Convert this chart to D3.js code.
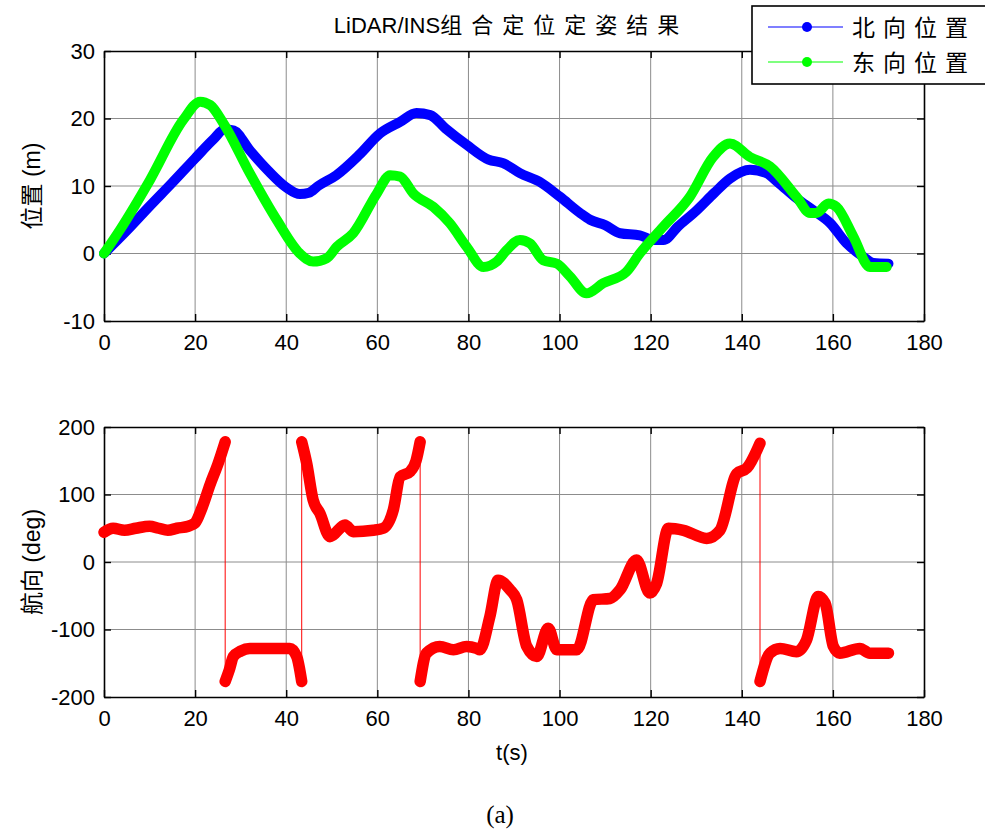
<!DOCTYPE html>
<html>
<head>
<meta charset="utf-8">
<script src="https://cdn.jsdelivr.net/npm/d3@7"></script>
<style>
  html, body { margin: 0; padding: 0; background: #fff; }
  svg { display: block; }
  svg text { fill: #000; }
</style>
</head>
<body>
<svg id="chart" width="985" height="833" font-family="'Liberation Sans', Arial, 'Noto Sans CJK SC', sans-serif"></svg>
<script>
// Time axis ticks (seconds)
const timeTicks = [0, 20, 40, 60, 80, 100, 120, 140, 160, 180];
const posTicks = [-10, 0, 10, 20, 30];
const headTicks = [-200, -100, 0, 100, 200];

// North position [t (s), m]
const northPos = [
  [0, 0], [5, 3.4], [10, 7.0], [15, 10.5], [20, 14.1], [24, 16.9], [26.5, 18.4],
  [28.5, 18.2], [32, 15.3], [36, 12.3], [40, 9.8], [43, 8.8], [45, 9.0], [47, 10.0],
  [51, 11.6], [56, 14.6], [60.6, 17.8], [65, 19.5], [68.6, 20.8], [71.6, 20.5],
  [75, 18.5], [79.6, 16.1], [84.4, 13.9], [87.6, 13.4], [91.3, 11.9], [95.7, 10.6],
  [100.1, 8.4], [104.5, 6.0], [106.7, 5.0], [110, 4.2], [113.3, 3.0], [117.6, 2.7],
  [120.6, 2.0], [122.8, 2.0], [126, 4.0], [130.1, 6.4], [134, 9.0], [137.4, 11.1],
  [141.8, 12.4], [145.4, 11.9], [148, 10.5], [152, 8.2], [155.7, 6.4], [159.4, 4.5],
  [163, 1.5], [166.7, -0.5], [168.9, -1.4], [172.2, -1.5]
];

// East position [t (s), m]
const eastPos = [
  [0, 0], [3.5, 3.5], [10.1, 10.9], [17.4, 19.8], [21.1, 22.5], [23.3, 22.0],
  [26.2, 19.3], [32, 11.9], [37.9, 5.0], [43, 0], [45.9, -1.2], [48.9, -0.7],
  [51.1, 1.0], [54.7, 3.0], [59.9, 8.9], [62.8, 11.6], [65, 11.4], [67.9, 8.9],
  [72.3, 6.9], [75.9, 4.5], [79.6, 1.0], [83.3, -2.0], [86.2, -1.2], [88.4, 0.5],
  [91.3, 2.0], [93.5, 1.5], [96.4, -1.0], [99.4, -1.5], [102.3, -3.4], [105.9, -5.9],
  [109.6, -4.4], [114.7, -2.7], [117.6, 0], [122.8, 4.0], [128.6, 8.4], [133.7, 14.3],
  [137.4, 16.3], [141.8, 14.3], [146.2, 12.9], [152, 8.4], [155, 6.0], [156.4, 6.0],
  [159, 7.4], [160.8, 6.9], [164.5, 2.5], [168.1, -2.0], [171.8, -2.0]
];

// Heading [t (s), deg], wraps at ±180
const heading = [
  [0, 44], [2, 50], [4.5, 47], [7, 50], [10, 53], [12, 50], [14, 47], [16, 50],
  [18.5, 53], [20, 58], [21.5, 80], [23.3, 115], [25, 145], [26.6, 178],
  [26.6, -177], [27.5, -160], [28.4, -140], [30, -132], [32, -128], [35.7, -128],
  [39.4, -128], [40.8, -128], [42.3, -140], [43.4, -177],
  [43.4, 178], [44.5, 146], [45.9, 92], [47.4, 72], [49.6, 37.5], [50.3, 40],
  [52.9, 55], [54.7, 45], [59.1, 47], [61.3, 50], [63.5, 77], [65, 126], [67.2, 134],
  [68.5, 150], [69.4, 178],
  [69.4, -177], [70.8, -135], [73.7, -125], [76.7, -130], [79.6, -125], [81.8, -128],
  [82.5, -130], [84.7, -81], [86.5, -27], [89.1, -41], [90.6, -56], [92.8, -125],
  [95, -140], [97.5, -98], [99.4, -130], [103.8, -130], [107.4, -56], [111.1, -54],
  [113.3, -41], [116.9, 3], [119.8, -46], [121.3, -32], [123.9, 50], [127.2, 47],
  [132.3, 35], [135.2, 47], [138.9, 131], [141.1, 139], [144, 176],
  [144, -177], [146.2, -135], [148.4, -128], [152, -133], [154.2, -116], [156.8, -51],
  [158.3, -61], [160.1, -125], [161.5, -135], [165.9, -128], [168.1, -135], [172.2, -135]
];

const svg = d3.select("#chart");
const sansFont = "'Liberation Sans', Arial, 'Noto Sans CJK SC', sans-serif";
const cjkFont = "'Noto Sans CJK SC', sans-serif";

const left = 104, right = 924;
const x = d3.scaleLinear().domain([0, 180]).range([left, right]);
const yPos = d3.scaleLinear().domain([-10, 30]).range([321, 51]);
const yHead = d3.scaleLinear().domain([-200, 200]).range([697, 427]);
const plain = d => String(d);   // hyphen-minus labels

function drawFrame(y, yTicks) {
  const [yb, yt] = y.range();
  const g = svg.append("g");

  // grid
  g.append("g").selectAll("line").data(timeTicks.slice(1, -1)).join("line")
    .attr("x1", d => x(d)).attr("x2", d => x(d)).attr("y1", yt).attr("y2", yb)
    .attr("stroke", "#8c8c8c").attr("stroke-width", 1);
  g.append("g").selectAll("line").data(yTicks.slice(1, -1)).join("line")
    .attr("x1", left).attr("x2", right).attr("y1", d => y(d)).attr("y2", d => y(d))
    .attr("stroke", "#8c8c8c").attr("stroke-width", 1);

  // axes with inward ticks
  g.append("g").attr("transform", `translate(0,${yb})`)
    .call(d3.axisBottom(x).tickValues(timeTicks).tickFormat(plain).tickSizeInner(-7).tickSizeOuter(0).tickPadding(13));
  g.append("g").attr("transform", `translate(0,${yt})`)
    .call(d3.axisTop(x).tickValues(timeTicks).tickSizeInner(-7).tickSizeOuter(0).tickFormat(""));
  g.append("g").attr("transform", `translate(${left},0)`)
    .call(d3.axisLeft(y).tickValues(yTicks).tickFormat(plain).tickSizeInner(-7).tickSizeOuter(0).tickPadding(9));
  g.append("g").attr("transform", `translate(${right},0)`)
    .call(d3.axisRight(y).tickValues(yTicks).tickSizeInner(-7).tickSizeOuter(0).tickFormat(""));

  g.selectAll(".domain").attr("stroke", "#000").attr("stroke-width", 1.6);
  g.selectAll(".tick line").attr("stroke", "#000").attr("stroke-width", 1.4);
  g.selectAll("g[font-family]").attr("font-family", sansFont).attr("font-size", 22);
  return g;
}

const line = (y) => d3.line().x(d => x(d[0])).y(d => y(d[1])).curve(d3.curveMonotoneX);

// ---- Position panel ----
drawFrame(yPos, posTicks);

svg.append("path").datum(northPos).attr("d", line(yPos))
  .attr("fill", "none").attr("stroke", "#0000ff").attr("stroke-width", 10)
  .attr("stroke-linejoin", "round").attr("stroke-linecap", "round");
svg.append("path").datum(eastPos).attr("d", line(yPos))
  .attr("fill", "none").attr("stroke", "#00ff00").attr("stroke-width", 10)
  .attr("stroke-linejoin", "round").attr("stroke-linecap", "round");

// title
const title = svg.append("text").attr("x", 511).attr("y", 33).attr("text-anchor", "middle")
  .attr("font-size", 22).style("font-family", sansFont);
title.append("tspan").text("LiDAR/INS");
title.append("tspan").style("font-family", cjkFont).attr("letter-spacing", 9).text("组合定位定姿结果");

// y label
svg.append("text").attr("transform", "translate(40,186) rotate(-90)")
  .attr("text-anchor", "middle").attr("font-size", 23).style("font-family", sansFont).text("位置 (m)");

// legend
const lg = svg.append("g");
lg.append("rect").attr("x", 752).attr("y", 6).attr("width", 250).attr("height", 78)
  .attr("fill", "#fff").attr("stroke", "#000").attr("stroke-width", 1.6);
const legendItems = [["北向位置", "#0000ff", 27], ["东向位置", "#00ff00", 62]];
legendItems.forEach(([name, color, ly]) => {
  lg.append("line").attr("x1", 768).attr("x2", 843).attr("y1", ly).attr("y2", ly)
    .attr("stroke", color).attr("stroke-width", 1.2);
  lg.append("circle").attr("cx", 807).attr("cy", ly).attr("r", 5).attr("fill", color);
  lg.append("text").attr("x", 852).attr("y", ly + 9).attr("font-size", 23)
    .attr("letter-spacing", 8).style("font-family", cjkFont).text(name);
});

// ---- Heading panel ----
drawFrame(yHead, headTicks);

// split at ±180 wraps into continuous runs
const runs = [];
let cur = [heading[0]];
for (let i = 1; i < heading.length; i++) {
  if (Math.abs(heading[i][1] - heading[i - 1][1]) > 180) {
    runs.push(cur);
    svg.append("line")
      .attr("x1", x(heading[i - 1][0])).attr("y1", yHead(heading[i - 1][1]))
      .attr("x2", x(heading[i][0])).attr("y2", yHead(heading[i][1]))
      .attr("stroke", "#ff0000").attr("stroke-width", 1);
    cur = [];
  }
  cur.push(heading[i]);
}
runs.push(cur);
const hLine = d3.line().x(d => x(d[0])).y(d => yHead(d[1])).curve(d3.curveMonotoneX);
runs.forEach(r => {
  svg.append("path").datum(r).attr("d", hLine)
    .attr("fill", "none").attr("stroke", "#ff0000").attr("stroke-width", 11.5)
    .attr("stroke-linejoin", "round").attr("stroke-linecap", "round");
});

svg.append("text").attr("transform", "translate(40,562) rotate(-90)")
  .attr("text-anchor", "middle").attr("font-size", 23).style("font-family", sansFont).text("航向 (deg)");

svg.append("text").attr("x", 512).attr("y", 760).attr("text-anchor", "middle")
  .attr("font-size", 22).style("font-family", sansFont).text("t(s)");

svg.append("text").attr("x", 500).attr("y", 823).attr("text-anchor", "middle")
  .attr("font-size", 25).style("font-family", "'Liberation Serif', 'Times New Roman', serif").text("(a)");
</script>
</body>
</html>
